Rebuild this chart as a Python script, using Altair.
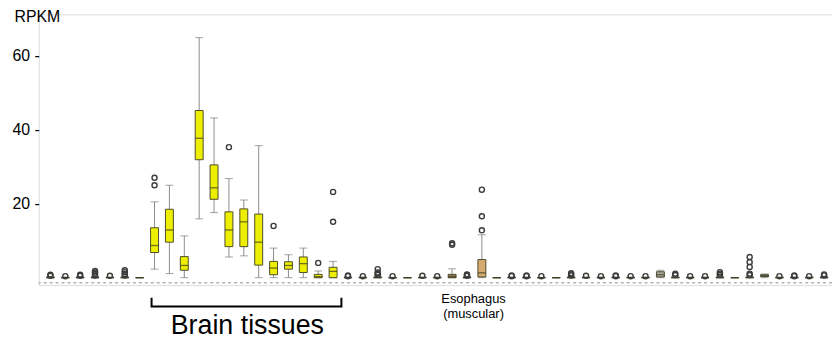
import altair as alt
import pandas as pd

tissues = [
    "Adipose - Subcutaneous", "Adipose - Visceral", "Adrenal Gland", "Artery - Aorta",
    "Artery - Coronary", "Artery - Tibial", "Bladder",
    "Brain - Amygdala", "Brain - Anterior cingulate cortex", "Brain - Caudate",
    "Brain - Cerebellar Hemisphere", "Brain - Cerebellum", "Brain - Cortex",
    "Brain - Frontal Cortex", "Brain - Hippocampus", "Brain - Hypothalamus",
    "Brain - Nucleus accumbens", "Brain - Putamen", "Brain - Spinal cord",
    "Brain - Substantia nigra", "Breast", "Cells - EBV lymphocytes",
    "Cells - Fibroblasts", "Cervix - Ectocervix", "Cervix - Endocervix",
    "Colon - Sigmoid", "Colon - Transverse", "Esophagus - GJ", "Esophagus - Mucosa",
    "Esophagus - Muscularis", "Fallopian Tube", "Heart - Atrial Appendage",
    "Heart - Left Ventricle", "Kidney", "Liver", "Lung", "Minor Salivary Gland",
    "Muscle", "Nerve - Tibial", "Ovary", "Pancreas", "Pituitary", "Prostate",
    "Skin - Not Sun Exposed", "Skin - Sun Exposed", "Small Intestine", "Spleen",
    "Stomach", "Testis", "Thyroid", "Uterus", "Vagina", "Whole Blood",
]

colors = [
    "#FF6600", "#FFAA00", "#33DD33", "#FF5555", "#FFAA99", "#FF0000", "#AA0000",
    "#EEEE00", "#EEEE00", "#EEEE00", "#EEEE00", "#EEEE00", "#EEEE00", "#EEEE00",
    "#EEEE00", "#EEEE00", "#EEEE00", "#EEEE00", "#EEEE00", "#EEEE00",
    "#33CCCC", "#CC66FF", "#AAEEFF", "#FFCCCC", "#CCAADD", "#EEBB77", "#CC9955",
    "#8B7355", "#552200", "#D4AA70", "#FFCCCC", "#9900FF", "#660099", "#22FFDD",
    "#AABB66", "#99FF00", "#99BB88", "#AAAAFF", "#FFD700", "#FFAAFF", "#995522",
    "#A8A8A0", "#DDDDDD", "#0000FF", "#7777FF", "#555522", "#778855", "#FFDD99",
    "#888888", "#006600", "#FF66FF", "#FF5599", "#FF00BB",
]

lower = [0, 0, 0, 0, 0, 0, 0,
         2.3, 1.1, 0, 15.9, 17.6, 5.6, 5.9, 0, 0, 0, 0, 0, 0,
         0, 0, 0, 0, 0, 0, 0, 0, 0, 0, 0, 0, 0, 0, 0, 0, 0, 0, 0, 0, 0,
         0, 0, 0, 0, 0, 0, 0, 0, 0, 0, 0, 0]
q1 = [0, 0, 0, 0, 0, 0, 0,
      6.8, 9.6, 2.0, 31.9, 21.2, 8.4, 8.4, 3.4, 0.8, 2.3, 1.4, 0, 0,
      0, 0, 0, 0, 0, 0, 0, 0, 0, 0.2, 0, 0, 0, 0, 0, 0, 0, 0, 0, 0, 0,
      0.2, 0, 0, 0, 0, 0, 0, 0.3, 0, 0, 0, 0]
median = [0, 0, 0, 0, 0, 0, 0,
          8.7, 12.9, 3.3, 37.7, 24.3, 12.9, 15.1, 9.6, 2.6, 3.3, 3.8, 0.3, 1.7,
          0, 0, 0, 0, 0, 0, 0, 0.2, 0, 1.3, 0, 0, 0, 0, 0, 0, 0, 0, 0, 0, 0,
          0.8, 0, 0, 0, 0, 0, 0, 0.5, 0, 0, 0, 0]
q3 = [0.1, 0.05, 0.1, 0.1, 0.05, 0.1, 0,
      13.5, 18.5, 5.7, 45.2, 30.5, 17.8, 18.6, 17.2, 4.4, 4.3, 5.6, 0.9, 2.8,
      0.05, 0.05, 0.2, 0, 0, 0.05, 0.05, 0.9, 0.1, 4.9, 0, 0.05, 0.05, 0, 0, 0.1,
      0.05, 0.05, 0.05, 0.05, 0.05,
      1.6, 0.1, 0.05, 0.05, 0.1, 0, 0.1, 0.8, 0.05, 0.05, 0.05, 0.1]
upper = [0.3, 0.2, 0.3, 0.3, 0.2, 0.3, 0,
         20.5, 25.0, 11.3, 64.9, 43.2, 26.8, 21.0, 35.7, 8.0, 6.2, 8.0, 1.8, 4.4,
         0.2, 0.2, 0.5, 0.1, 0, 0.2, 0.2, 2.4, 0.3, 11.6, 0, 0.2, 0.2, 0.1, 0, 0.3,
         0.2, 0.2, 0.2, 0.2, 0.2,
         2.0, 0.4, 0.2, 0.2, 0.4, 0, 0.4, 1.0, 0.2, 0.2, 0.2, 0.3]
outliers = [
    [0.5, 0.8], [0.4], [0.5, 0.8], [0.6, 1.0, 1.4, 1.8], [0.5], [0.6, 1.0, 1.5, 2.0], [],
    [25.0, 27.0], [], [], [], [], [35.3], [], [], [14.0], [], [], [4.0], [15.1, 23.2],
    [0.4, 0.6], [0.4], [0.8, 1.1, 1.4, 2.3], [0.4], [], [0.5], [0.4], [8.9, 9.3],
    [0.5, 0.7, 0.9], [12.8, 16.6, 23.8], [], [0.4, 0.6], [0.4, 0.6], [0.4], [],
    [0.6, 0.9, 1.2], [0.5], [0.4], [0.4, 0.6], [0.4], [0.4],
    [], [0.7, 1.1], [0.4], [0.4], [0.7, 1.1, 1.5], [], [0.7, 1.1, 2.9, 4.2, 5.6],
    [], [0.4], [0.4, 0.6], [0.4], [0.6, 0.9],
]

y_ticks = [20, 40, 60]

FONT = "Liberation Sans, Arial, Helvetica, sans-serif"

df = pd.DataFrame({
    "pos": list(range(len(tissues))), "tissue": tissues, "color": colors,
    "lower": lower, "q1": q1, "median": median, "q3": q3, "upper": upper,
})
odf = pd.DataFrame([{"pos": i, "value": v} for i, vals in enumerate(outliers) for v in vals])

xscale = alt.Scale(domain=[-0.45, 52.2], nice=False, zero=False)
yscale = alt.Scale(domain=[-2.0, 71.2], nice=False, zero=False)
X = alt.X("pos:Q", scale=xscale, axis=None)

base = alt.Chart(df)

baseline = alt.Chart(pd.DataFrame({"y": [-1.4]})).mark_rule(
    color="#8a8a8a", strokeDash=[3, 3], strokeWidth=1
).encode(
    y=alt.Y("y:Q", scale=yscale, axis=alt.Axis(
        orient="left", values=y_ticks, labelExpr="datum.label + ' -'", ticks=False,
        domain=False, grid=False, labelFontSize=16, labelFont=FONT, labelColor="black",
        labelPadding=27, labelAlign="left", labelBaseline="middle",
        title="RPKM", titleAngle=0, titleAlign="left", titleBaseline="middle",
        titleX=-25, titleY=2, titleFontSize=16, titleFont=FONT,
        titleFontWeight="normal", titleColor="black",
    ))
)

whisk = base.mark_rule(color="#8c8c8c", strokeWidth=1).encode(
    x=X, y=alt.Y("lower:Q", scale=yscale), y2="upper:Q"
)
cap_lo = base.mark_tick(orient="horizontal", size=8, thickness=1, color="#7a7a7a").encode(
    x=X, y=alt.Y("lower:Q", scale=yscale)
)
cap_hi = base.mark_tick(orient="horizontal", size=8, thickness=1, color="#7a7a7a").encode(
    x=X, y=alt.Y("upper:Q", scale=yscale)
)
box = base.mark_bar(orient="vertical", size=8, stroke="#4e4e2a", strokeWidth=1).encode(
    x=X, y=alt.Y("q1:Q", scale=yscale), y2="q3:Q",
    color=alt.Color("color:N", scale=None),
)
med = base.mark_tick(orient="horizontal", size=8, thickness=1.3, color="#3a3a22").encode(
    x=X, y=alt.Y("median:Q", scale=yscale)
)
pts = alt.Chart(odf).mark_point(
    shape="circle", filled=False, size=26, color="#3c3c3c", strokeWidth=1.4, opacity=1
).encode(x=X, y=alt.Y("value:Q", scale=yscale))

# annotations
bracket = alt.Chart(pd.DataFrame({
    "bx": [6.8, 6.8, 19.56, 19.56], "by": [-5.4, -7.8, -7.8, -5.4], "o": [0, 1, 2, 3]
})).mark_line(color="black", strokeWidth=2).encode(
    x=alt.X("bx:Q", scale=xscale, axis=None), y=alt.Y("by:Q", scale=yscale), order="o:Q"
)
labels = alt.Chart(pd.DataFrame({
    "tx": [13.24, 28.44, 28.44], "ty": [-13.2, -5.9, -9.9],
    "t": ["Brain tissues", "Esophagus", "(muscular)"], "fs": [27, 13, 13],
})).mark_text(font=FONT, color="black", baseline="middle", align="center").encode(
    x=alt.X("tx:Q", scale=xscale, axis=None), y=alt.Y("ty:Q", scale=yscale),
    text="t:N", size=alt.Size("fs:Q", scale=None, legend=None),
)

chart = alt.layer(baseline, whisk, cap_lo, cap_hi, box, med, pts, bracket, labels).properties(
    width=800, height=273,
    autosize=alt.AutoSizeParams(type="none"),
    padding={"left": 31, "top": 5, "right": 0, "bottom": 58},
).configure_view(stroke="#e6e6e6", strokeWidth=1).configure(background="white")

chart.save("out.html", embed_options={"renderer": "svg", "actions": False})
